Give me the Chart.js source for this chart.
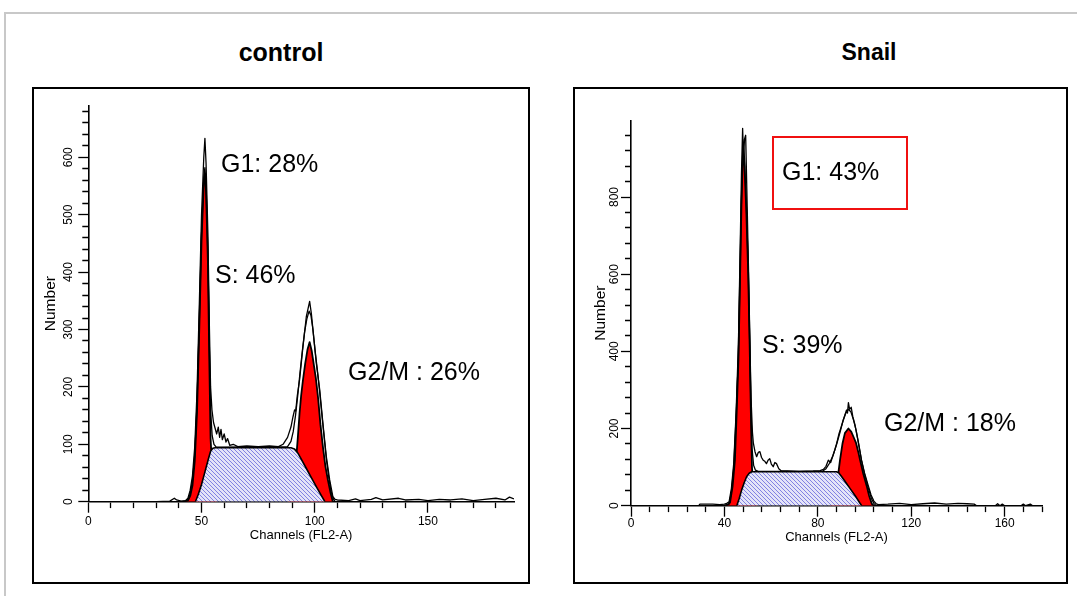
<!DOCTYPE html>
<html>
<head>
<meta charset="utf-8">
<script src="https://cdn.jsdelivr.net/npm/chart.js@4.4.1/dist/chart.umd.min.js"></script>
<style>
body { margin: 0; width: 1077px; height: 596px; overflow: hidden; background: #fff; position: relative; font-family: 'Liberation Sans', Arial, sans-serif; }
#frame { position: absolute; left: 4px; top: 12px; width: 1100px; height: 620px; border: 2px solid #c8c8c8; box-sizing: border-box; }
.box { position: absolute; border: 2px solid #000; box-sizing: border-box; }
.ttl { position: absolute; font-weight: bold; transform: translate(-50%, -50%); white-space: nowrap; }
.lab { position: absolute; font-size: 25px; transform: translateY(-50%); white-space: nowrap; }
.redbox { position: absolute; border: 2px solid #f01010; box-sizing: border-box; }
canvas { position: absolute; }
</style>
</head>
<body>
<div id="frame"></div>

<div class="ttl" style="left:281px;top:52px;font-size:25px">control</div>
<div class="ttl" style="left:869px;top:52px;font-size:23px">Snail</div>

<div class="box" style="left:32px;top:87px;width:498px;height:497px"></div>
<div class="box" style="left:573px;top:87px;width:495px;height:497px"></div>

<canvas id="ctrlChart" width="494" height="493" style="left:34px;top:89px"></canvas>
<canvas id="snailChart" width="491" height="493" style="left:575px;top:89px"></canvas>

<div class="lab" style="left:221px;top:163px">G1: 28%</div>
<div class="lab" style="left:215px;top:274px">S: 46%</div>
<div class="lab" style="left:348px;top:371px">G2/M : 26%</div>

<div class="redbox" style="left:772px;top:136px;width:136px;height:74px"></div>
<div class="lab" style="left:782px;top:171px">G1: 43%</div>
<div class="lab" style="left:762px;top:344px">S: 39%</div>
<div class="lab" style="left:884px;top:422px">G2/M : 18%</div>

<script>
const FONT = "'Liberation Sans', Arial, sans-serif";
const xTitle = 'Channels (FL2-A)';
const yTitle = 'Number';

// control: [channel, count]
const ctrlData = [[0,0],[30,0],[36,1],[38,6],[39,3],[41,1],[43,2],[44,6],[45,20],[46,45],[47,95],[48,190],[49,340],[50,500],[51,600],[51.5,633],[52,590],[52.8,470],[53.5,300],[54,200],[54.6,160],[55.3,138],[56,128],[56.7,118],[57.4,130],[58,112],[58.6,126],[59.2,108],[60,118],[60.8,104],[61.5,110],[62.5,98],[64,100],[66,96],[70,97],[75,96],[80,97],[84,96],[86,100],[88,112],[89.5,130],[90.4,148],[91.1,160],[91.6,158],[92.3,185],[93.3,212],[94.8,270],[96.3,323],[97.75,349],[98.5,328],[99.5,288],[100.7,241],[102.2,195],[103.6,137],[105.1,79],[106.6,38],[108,9],[109,4],[110,3],[115,2],[118,5],[120,2],[125,4],[127,7],[130,3],[137,6],[140,3],[146,4],[150,2],[155,4],[160,3],[165,5],[170,2],[175,4],[180,6],[184,3],[186,8],[188,5]];
const ctrlFit = [[40,0],[43,1],[44,4],[45,14],[46,36],[47,82],[48,170],[49,310],[50,465],[51,565],[51.5,582],[52,550],[52.8,430],[53.5,265],[54,160],[54.7,115],[55.5,100],[56.5,95],[88,96],[89.5,105],[90.5,122],[91.5,150],[92.5,185],[93.5,225],[94.5,262],[95.5,295],[96.5,318],[97.5,332],[98.3,325],[99.2,300],[100.2,262],[101.2,228],[102.2,190],[103.2,150],[104.2,110],[105.2,72],[106.2,42],[107.2,18],[108.2,5],[109,0],[112,0]];
const ctrlG1 = [[42,0],[44,2],[45,10],[46,28],[47,70],[48,155],[49,300],[50,455],[51,555],[51.5,572],[52,540],[52.8,420],[53.4,255],[54,110],[55,35],[56,8],[57,0]];
const ctrlG2 = [[88,0],[90,25],[91.5,60],[92.5,110],[93.3,154],[94,185],[94.8,212],[95.8,241],[96.8,265],[97.75,278],[98.7,262],[99.5,241],[100.5,215],[101.5,180],[102.5,135],[103.6,96],[104.7,62],[105.8,38],[107,15],[108,0]];
const ctrlS = [[47.3,0],[48.5,12],[50,30],[51.5,52],[53,74],[54,88],[55,93],[56,94],[89.5,94],[91,92],[92.5,85],[93.5,78],[96,60],[98.5,42],[101,24],[103,10],[104.5,0]];

// Snail: [channel, count]
const snailData = [[0,0],[29,0],[29.5,4],[35,4],[38,3],[40,4],[41,6],[42,10],[43,45],[44,110],[45,240],[46,420],[46.7,650],[47.3,860],[47.8,978],[48.2,900],[48.6,950],[49.1,960],[49.6,820],[50.3,620],[50.9,430],[51.4,280],[52,190],[52.4,162],[53.1,140],[53.8,127],[54.5,138],[55.2,140],[55.9,125],[56.6,118],[57.3,115],[58,109],[58.7,118],[59.4,122],[60.1,108],[60.9,101],[61.6,112],[62.3,109],[63.3,96],[64.4,90],[67,90],[72,89],[78,90],[81,91],[82.4,94],[83.5,102],[84.5,118],[85.5,112],[86.5,130],[87.3,145],[88.1,162],[89,185],[89.8,200],[90.9,222],[91.6,235],[92.3,248],[92.7,240],[93.1,267],[93.6,250],[94.3,255],[95,230],[95.9,210],[97,175],[98.7,118],[100,85],[101.6,52],[102.8,28],[104,12],[105,5],[106,3],[110,4],[115,6],[120,3],[125,5],[130,7],[135,4],[140,6],[144,5],[147,4],[148,0],[156,0],[157,5],[158,0],[159,4],[160,0],[167,0],[168,4],[169,0],[171,4],[172,0],[176,0]];
const snailFit = [[40,0],[42,4],[43,35],[44,100],[45,230],[46,390],[46.6,570],[47.3,790],[48,940],[48.6,900],[49.4,780],[50.2,610],[50.8,430],[51.3,270],[51.8,150],[52.5,105],[53.3,92],[54.5,89],[82,89],[83.5,96],[85,110],[86.5,130],[88,158],[89.5,190],[90.8,220],[92,240],[93.1,250],[94.2,243],[95.3,222],[96.4,195],[97.5,160],[98.7,118],[100,82],[101.5,48],[103,18],[104,6],[105,0]];
const snailG1 = [[40,0],[41.5,3],[42.4,8],[43.5,50],[44.5,118],[45.3,250],[46,377],[46.6,560],[47.3,780],[48,930],[48.6,880],[49.4,760],[50.2,600],[50.8,420],[51.3,250],[51.8,100],[52.5,30],[53.5,5],[54.5,0]];
const snailG2 = [[85,0],[86.5,15],[87.8,45],[88.8,85],[89.5,118],[90.6,162],[91.6,188],[93.1,200],[94.3,192],[95.3,178],[96.4,162],[97.3,140],[98.1,118],[99.5,82],[100.9,52],[102,25],[103.1,5],[104,0]];
const snailS = [[45.3,0],[46.3,18],[47.4,41],[48.5,60],[49.5,75],[50.6,84],[51.7,88],[88,88],[89,85],[90,77],[92,60],[94,43],[96,26],[98,7],[98.8,0]];

function pts(a) {
    return a.map(p => ({ x: p[0], y: p[1] }));
}

// light lavender tile with fine blue diagonals for the S-phase area
function hatchPattern(ctx) {
    const c = document.createElement('canvas');
    c.width = 4; c.height = 4;
    const g = c.getContext('2d');
    g.fillStyle = '#e4e4f8';
    g.fillRect(0, 0, 4, 4);
    g.strokeStyle = '#8282e2';
    g.lineWidth = 1;
    g.beginPath();
    g.moveTo(-1, -1); g.lineTo(5, 5);
    g.moveTo(-1, 3); g.lineTo(1, 5);
    g.moveTo(3, -1); g.lineTo(5, 1);
    g.stroke();
    return ctx.createPattern(c, 'repeat');
}

function makeChart(id, o) {
    const ctx = document.getElementById(id).getContext('2d');
    const major = (v, m) => v % m === 0;
    return new Chart(ctx, {
        type: 'line',
        data: {
            datasets: [
                { data: pts(o.data), borderColor: '#000', borderWidth: 1.3, fill: false, order: 1 },
                { data: pts(o.fit), borderColor: '#000', borderWidth: 1.3, fill: false, order: 2 },
                { data: pts(o.s), borderColor: '#000', borderWidth: 1.6, backgroundColor: hatchPattern(ctx), fill: 'origin', order: 3 },
                { data: pts(o.g2), borderColor: '#000', borderWidth: 1.8, backgroundColor: '#ff0000', fill: 'origin', order: 4 },
                { data: pts(o.g1), borderColor: '#000', borderWidth: 1.8, backgroundColor: '#ff0000', fill: 'origin', order: 5 }
            ]
        },
        options: {
            responsive: false,
            animation: false,
            layout: { padding: { left: 0, top: o.padTop, right: o.padRight, bottom: 0 } },
            plugins: { legend: { display: false }, tooltip: { enabled: false } },
            elements: { point: { radius: 0 }, line: { tension: 0, borderJoinStyle: 'round' } },
            scales: {
                x: {
                    type: 'linear', min: 0, max: o.xMax,
                    afterFit: s => { s.height = o.xH; },
                    ticks: {
                        stepSize: o.xStep, includeBounds: false, autoSkip: false, maxRotation: 0,
                        color: '#000', padding: o.xTickPad, font: { family: FONT, size: o.xFont },
                        callback: v => major(v, o.xMajor) ? String(v) : ''
                    },
                    grid: {
                        drawOnChartArea: false, tickLength: 11, tickWidth: 1.3, tickColor: '#000',
                        tickBorderDash: c => (c.tick && major(c.tick.value, o.xMajor)) ? [] : [5.5, 100]
                    },
                    border: { color: '#000', width: 1.6 },
                    title: { display: true, text: xTitle, color: '#000', font: { family: FONT, size: 13 }, padding: { top: 0, bottom: o.xTitlePad } }
                },
                y: {
                    type: 'linear', min: 0, max: o.yMax,
                    afterFit: s => { s.width = o.yW; },
                    ticks: {
                        stepSize: o.yStep, includeBounds: false, autoSkip: false,
                        minRotation: 90, maxRotation: 90, crossAlign: 'center', padding: o.yTickPad,
                        color: '#000', font: { family: FONT, size: 12 },
                        callback: v => major(v, o.yMajor) ? String(v) : ''
                    },
                    grid: {
                        drawOnChartArea: false, tickLength: 10, tickWidth: 1.3, tickColor: '#000',
                        tickBorderDash: c => (c.tick && major(c.tick.value, o.yMajor)) ? [] : [0, 4, 6, 100]
                    },
                    border: { color: '#000', width: 1.6 },
                    title: { display: true, text: yTitle, color: '#000', font: { family: FONT, size: 15.5 }, padding: { top: o.yTitlePad, bottom: 0 } }
                }
            }
        }
    });
}

makeChart('ctrlChart', {
    data: ctrlData, fit: ctrlFit, g1: ctrlG1, g2: ctrlG2, s: ctrlS,
    xMax: 188, xStep: 10, xMajor: 50, yMax: 690, yStep: 20, yMajor: 100,
    padTop: 16.6, padRight: 14, xH: 80.3, yW: 54.3,
    xFont: 12, xTickPad: 2, yTickPad: 0, xTitlePad: 39, yTitlePad: 7.7
});

makeChart('snailChart', {
    data: snailData, fit: snailFit, g1: snailG1, g2: snailG2, s: snailS,
    xMax: 176, xStep: 8, xMajor: 40, yMax: 998, yStep: 40, yMajor: 200,
    padTop: 31.6, padRight: 24, xH: 76.3, yW: 56,
    xFont: 12, xTickPad: 0, yTickPad: -4, xTitlePad: 37, yTitlePad: 16.7
});
</script>
</body>
</html>
